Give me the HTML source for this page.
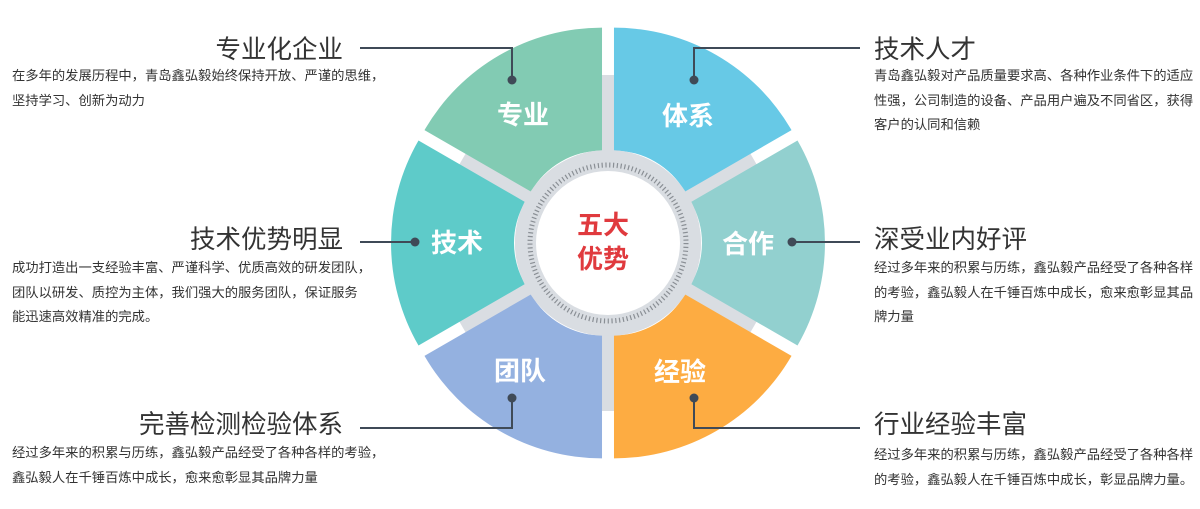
<!DOCTYPE html>
<html><head><meta charset="utf-8"><style>
html,body{margin:0;padding:0;background:#fff;}
body{width:1200px;height:509px;position:relative;overflow:hidden;font-family:"Liberation Sans","Noto Sans CJK SC",sans-serif;}
.t{position:absolute;font-size:25.5px;color:#333;line-height:28px;white-space:nowrap;}
.d{position:absolute;font-size:13.3px;color:#333;line-height:24.5px;white-space:nowrap;}
svg{position:absolute;left:0;top:0;}
</style></head><body>
<svg width="1200" height="509" viewBox="0 0 1200 509">
<g transform="translate(608,243)">
 <circle r="93" fill="#d9dde2"/>
 <g fill="#d9dde2">
  <rect x="-9" y="-168" width="18" height="168" transform="rotate(0)"/>
  <rect x="-9" y="-168" width="18" height="168" transform="rotate(60)"/>
  <rect x="-9" y="-168" width="18" height="168" transform="rotate(120)"/>
  <rect x="-9" y="-168" width="18" height="168" transform="rotate(180)"/>
  <rect x="-9" y="-168" width="18" height="168" transform="rotate(240)"/>
  <rect x="-9" y="-168" width="18" height="168" transform="rotate(300)"/>
 </g>
 <g>
  <path transform="rotate(-30) translate(0,-12)" fill="#82cbb3" d="M-41,-71 L-102.5,-177.5 A205 205 0 0 1 102.5,-177.5 L41,-71 A82 82 0 0 0 -41,-71Z"/>
  <path transform="rotate(30) translate(0,-12)" fill="#67c9e6" d="M-41,-71 L-102.5,-177.5 A205 205 0 0 1 102.5,-177.5 L41,-71 A82 82 0 0 0 -41,-71Z"/>
  <path transform="rotate(90) translate(0,-12)" fill="#92d0cf" d="M-41,-71 L-102.5,-177.5 A205 205 0 0 1 102.5,-177.5 L41,-71 A82 82 0 0 0 -41,-71Z"/>
  <path transform="rotate(150) translate(0,-12)" fill="#fdac42" d="M-41,-71 L-102.5,-177.5 A205 205 0 0 1 102.5,-177.5 L41,-71 A82 82 0 0 0 -41,-71Z"/>
  <path transform="rotate(210) translate(0,-12)" fill="#94b1e0" d="M-41,-71 L-102.5,-177.5 A205 205 0 0 1 102.5,-177.5 L41,-71 A82 82 0 0 0 -41,-71Z"/>
  <path transform="rotate(270) translate(0,-12)" fill="#5ecbc9" d="M-41,-71 L-102.5,-177.5 A205 205 0 0 1 102.5,-177.5 L41,-71 A82 82 0 0 0 -41,-71Z"/>
 </g>
 <circle r="93" fill="#d9dde2"/>
 <circle r="78" fill="none" stroke="#8a8f95" stroke-width="5" stroke-dasharray="1.2 2.6"/>
 <circle r="72" fill="#fff"/>
</g>
<g font-family="Liberation Sans, Noto Sans CJK SC, sans-serif" font-weight="bold" font-size="26" fill="#fff" text-anchor="middle">
 <text x="523" y="124">专业</text>
 <text x="688" y="125">体系</text>
 <text x="457" y="252">技术</text>
 <text x="748" y="253">合作</text>
 <text x="520" y="380">团队</text>
 <text x="680" y="381">经验</text>
</g>
<g font-family="Liberation Sans, Noto Sans CJK SC, sans-serif" font-weight="bold" font-size="26" fill="#e03a3e" text-anchor="middle">
 <text x="603" y="234">五大</text>
 <text x="603" y="268">优势</text>
</g>
<g stroke="#3f4a57" stroke-width="2" fill="none">
 <polyline points="360,48 512,48 512,80"/>
 <polyline points="860,48 694,48 694,80"/>
 <line x1="360" y1="242" x2="415" y2="242"/>
 <line x1="792" y1="242" x2="860" y2="242"/>
 <polyline points="360,428 512,428 512,398"/>
 <polyline points="860,428 694,428 694,398"/>
</g>
<g fill="#3f4a57">
 <circle cx="512" cy="80" r="4.5"/><circle cx="694" cy="80" r="4.5"/>
 <circle cx="415" cy="242" r="4.5"/><circle cx="792" cy="242" r="4.5"/>
 <circle cx="512" cy="398" r="4.5"/><circle cx="694" cy="398" r="4.5"/>
</g>
</svg>

<div class="t" style="right:857px;top:36px;">专业化企业</div>
<div class="d" style="left:12px;top:64px;">在多年的发展历程中，青岛鑫弘毅始终保持开放、严谨的思维，<br>坚持学习、创新为动力</div>

<div class="t" style="right:857px;top:226px;">技术优势明显</div>
<div class="d" style="left:12px;top:256px;">成功打造出一支经验丰富、严谨科学、优质高效的研发团队，<br>团队以研发、质控为主体，我们强大的服务团队，保证服务<br>能迅速高效精准的完成。</div>

<div class="t" style="right:857px;top:411px;">完善检测检验体系</div>
<div class="d" style="left:12px;top:441px;">经过多年来的积累与历练，鑫弘毅产品经受了各种各样的考验，<br>鑫弘毅人在千锤百炼中成长，愈来愈彰显其品牌力量</div>

<div class="t" style="left:874px;top:36px;">技术人才</div>
<div class="d" style="left:874px;top:64px;">青岛鑫弘毅对产品质量要求高、各种作业条件下的适应<br>性强，公司制造的设备、产品用户遍及不同省区，获得<br>客户的认同和信赖</div>

<div class="t" style="left:874px;top:226px;">深受业内好评</div>
<div class="d" style="left:874px;top:256px;">经过多年来的积累与历练，鑫弘毅产品经受了各种各样<br>的考验，鑫弘毅人在千锤百炼中成长，愈来愈彰显其品<br>牌力量</div>

<div class="t" style="left:874px;top:411px;">行业经验丰富</div>
<div class="d" style="left:874px;top:443px;">经过多年来的积累与历练，鑫弘毅产品经受了各种各样<br>的考验，鑫弘毅人在千锤百炼中成长，彰显品牌力量。</div>
</body></html>
